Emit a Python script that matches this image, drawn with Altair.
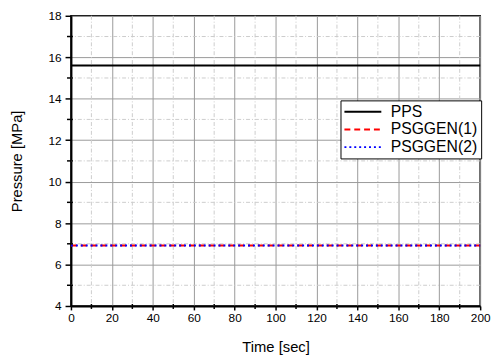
import altair as alt
import pandas as pd

time = [0, 50, 100, 150, 200]
pps = [15.6, 15.6, 15.6, 15.6, 15.6]
psggen1 = [6.92, 6.92, 6.92, 6.92, 6.92]
psggen2 = [6.92, 6.92, 6.92, 6.92, 6.92]
series = ["PPS", "PSGGEN(1)", "PSGGEN(2)"]
colors = ["#000000", "#ff0000", "#0000ff"]
dashes = [[1, 0], [6, 4], [2, 3]]

x_major = list(range(0, 201, 20))
x_minor = list(range(10, 200, 20))
y_major = list(range(4, 19, 2))
y_minor = list(range(5, 18, 2))

W, H = 416, 295
FONT = "Liberation Sans"

rows = []
for name, vals in zip(series, [pps, psggen1, psggen2]):
    for t, v in zip(time, vals):
        rows.append({"t": t, "v": v, "s": name})
df = pd.DataFrame(rows)

xs = alt.Scale(domain=[0, 200], nice=False)
ys = alt.Scale(domain=[4, 18], nice=False)

x_axis = alt.Axis(values=x_major, grid=True, gridColor="#999999", gridWidth=1,
                  domainColor="black", domainWidth=2, tickColor="black", tickWidth=1.5,
                  tickSize=4, labelFontSize=12, labelColor="black", labelPadding=3,
                  labelFlush=False,
                  titleFontSize=15, titleFontWeight="normal", titleColor="black",
                  titlePadding=16, labelFont=FONT, titleFont=FONT)
y_axis = alt.Axis(values=y_major, grid=True, gridColor="#999999", gridWidth=1,
                  domainColor="black", domainWidth=2, tickColor="black", tickWidth=1.5,
                  tickSize=6, labelFontSize=12, labelColor="black", labelPadding=4,
                  labelFlush=False,
                  titleFontSize=15, titleFontWeight="normal", titleColor="black",
                  titlePadding=24, labelFont=FONT, titleFont=FONT)
XT = "Time [sec]"
YT = "Pressure [MPa]"

minx = pd.DataFrame({"x": x_minor})
miny = pd.DataFrame({"y": y_minor})

grid_minor_x = alt.Chart(minx).mark_rule(color="#cccccc", strokeWidth=1, strokeDash=[4, 2, 1, 2]).encode(
    x=alt.X("x:Q", scale=xs, axis=x_axis, title=XT))
grid_minor_y = alt.Chart(miny).mark_rule(color="#cccccc", strokeWidth=1, strokeDash=[4, 2, 1, 2]).encode(
    y=alt.Y("y:Q", scale=ys, axis=y_axis, title=YT))
tick_minor_x = alt.Chart(minx).mark_rule(color="black", strokeWidth=1.5).encode(
    x=alt.X("x:Q", scale=xs, axis=x_axis, title=XT), y=alt.value(H - 2), y2=alt.value(H + 3))
tick_minor_y = alt.Chart(miny).mark_rule(color="black", strokeWidth=1.5).encode(
    y=alt.Y("y:Q", scale=ys, axis=y_axis, title=YT), x=alt.value(-4), x2=alt.value(2))

lines = alt.Chart(df).mark_line(strokeWidth=2).encode(
    x=alt.X("t:Q", scale=xs, title=XT, axis=x_axis),
    y=alt.Y("v:Q", scale=ys, title=YT, axis=y_axis),
    color=alt.Color("s:N", scale=alt.Scale(domain=series, range=colors),
                    legend=alt.Legend(title=None, orient="none", legendX=274, legendY=86,
                                      strokeColor="black", fillColor="white", padding=3,
                                      symbolType="M-1,0H4", symbolSize=225, symbolStrokeWidth=2,
                                      labelFontSize=16, labelFont=FONT, labelColor="black",
                                      rowPadding=1, labelOffset=31)),
    strokeDash=alt.StrokeDash("s:N", scale=alt.Scale(domain=series, range=dashes), legend=None),
    order="s:N",
)

chart = alt.layer(grid_minor_x, grid_minor_y, lines, tick_minor_x, tick_minor_y).properties(
    width=W, height=H,
    autosize=alt.AutoSizeParams(type="none"),
    padding={"left": 64, "top": 5, "right": 11, "bottom": 53},
).configure_view(stroke="black", strokeWidth=1.5)

chart.save("out.html", embed_options={"renderer": "svg", "actions": False})
